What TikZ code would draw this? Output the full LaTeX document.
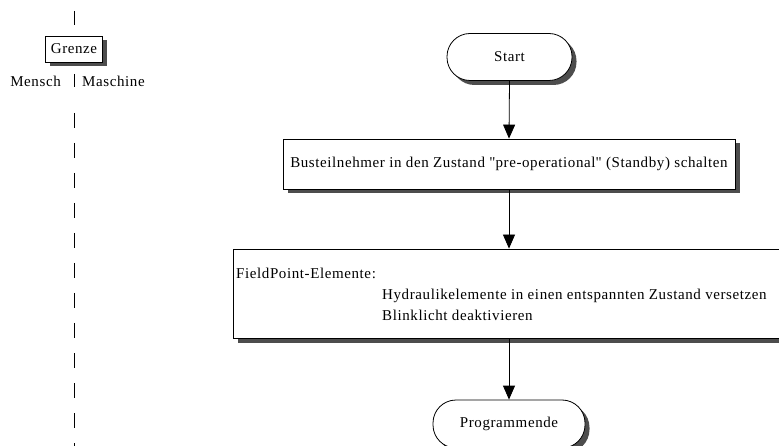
\documentclass[tikz,border=0pt]{standalone}
\usepackage{fontspec}
\setmainfont{Liberation Serif}[LetterSpace=4]
\usetikzlibrary{arrows.meta,shadows}
\definecolor{shade}{HTML}{4D4D4D}
\begin{document}
\begin{tikzpicture}[x=1pt,y=-1pt,
  txt/.style={font=\fontsize{15}{17}\selectfont,inner sep=0pt},
  shadowed/.style={drop shadow={shadow xshift=4.5pt,shadow yshift=-4.5pt,fill=shade,opacity=1}},
  flowbox/.style={draw,fill=white,line width=0.8pt,shadowed,txt},
  terminal/.style={flowbox,rounded corners=23pt},
  arr/.style={line width=0.8pt,-{Triangle[length=14pt,width=12pt]}},
  boundary/.style={line width=0.8pt,dash pattern=on 15pt off 15pt}]
\useasboundingbox (0,0) rectangle (779,446);
\clip (0,0) rectangle (779,446);

% Mensch / Maschine boundary
\coordinate (ltop) at (74,11);
\coordinate (ltopend) at (74,25);
\coordinate (lmid) at (74,74);
\coordinate (lmidend) at (74,87);
\coordinate (lrun) at (74,113);
\coordinate (lbot) at (74,446);
\draw[line width=0.8pt] (ltop) -- (ltopend);
\draw[line width=0.8pt] (lmid) -- (lmidend);
\draw[boundary] (lrun) -- (lbot);
\node[flowbox,minimum width=57pt,minimum height=26pt] (grenze) at (74,49) {Grenze};
\node[txt,anchor=east] (mensch) at (61,81) {Mensch};
\node[txt,anchor=west] (maschine) at (82,81) {Maschine};

% program flow
\node[terminal,minimum width=125pt,minimum height=47pt] (start) at (509.5,57) {Start};
\node[flowbox,minimum width=452pt,minimum height=50pt] (bus) at (509,164)
  {Busteilnehmer in den Zustand \textquotedbl pre-operational\textquotedbl{} (Standby) schalten};
\node[flowbox,minimum width=580pt,minimum height=89pt] (fp) at (523,293.5) {};
\node[txt,anchor=west] (fptitle) at (236,273) {FieldPoint-Elemente:};
\node[txt,anchor=west] (hyd) at (382,296) {Hydraulikelemente in einen entspannten Zustand versetzen};
\node[txt,anchor=west] (blink) at (382,315) {Blinklicht deaktivieren};
\node[terminal,minimum width=152pt,minimum height=48pt] (ende) at (509,424) {Programmende};

\draw[arr] (start.south) -- (bus.north);
\draw[arr] (bus.south) -- (bus.south |- fp.north);
\draw[arr] (bus.south |- fp.south) -- (ende.north);
\end{tikzpicture}
\end{document}
